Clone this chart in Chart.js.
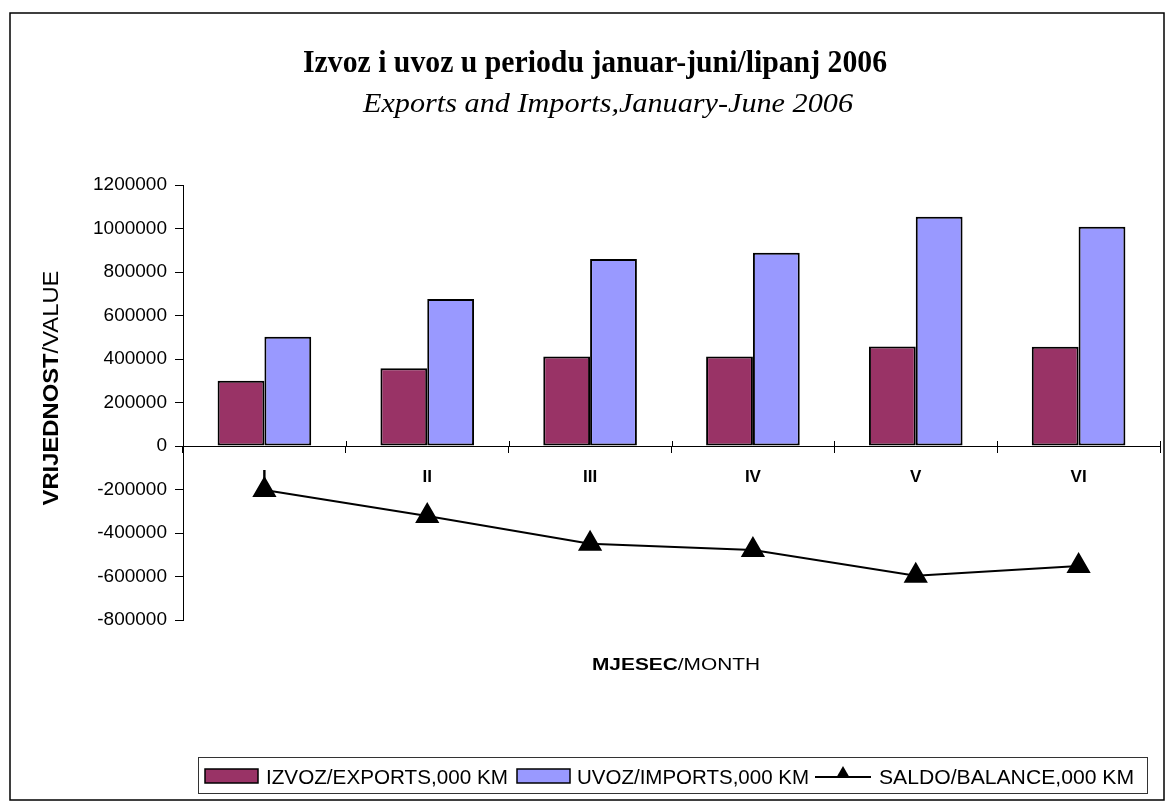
<!DOCTYPE html>
<html>
<head>
<meta charset="utf-8">
<script src="https://cdn.jsdelivr.net/npm/chart.js@4.4.0/dist/chart.umd.min.js"></script>
<style>
  html, body { margin: 0; padding: 0; background: #fff; }
  #wrap { width: 1174px; height: 808px; position: relative; }
</style>
</head>
<body>
<div id="wrap"><canvas id="chart" width="1174" height="808"></canvas></div>
<script>
// Izvoz i uvoz, januar-juni 2006 (000 KM)
const months = ['I', 'II', 'III', 'IV', 'V', 'VI'];
const exportsKM = [300000, 357000, 411000, 411000, 457000, 456000];
const importsKM = [502000, 676000, 860000, 889000, 1054000, 1008000];
const balanceKM = [-202000, -322000, -449000, -478000, -597000, -552000];
const yTicks = [-800000, -600000, -400000, -200000, 0, 200000, 400000, 600000, 800000, 1000000, 1200000];

const MAROON = '#993366';
const LAVENDER = '#9999FF';
const SANS = "'Liberation Sans', Arial, sans-serif";
const SERIF = "'Liberation Serif', 'Times New Roman', serif";

// draw text pieces squeezed/stretched to a given width
function fitText(ctx, parts, x, y, width, align) {
    let total = 0;
    parts.forEach(p => {
        ctx.font = p.font;
        p.w = ctx.measureText(p.text).width;
        total += p.w;
    });
    const sx = width / total;
    ctx.save();
    ctx.translate(x, y);
    ctx.scale(sx, 1);
    let cx = align === 'center' ? -total / 2 : 0;
    ctx.textAlign = 'left';
    ctx.textBaseline = 'alphabetic';
    parts.forEach(p => {
        ctx.font = p.font;
        ctx.fillText(p.text, cx, 0);
        cx += p.w;
    });
    ctx.restore();
}

function triangle(ctx, cx, cy, r) {
    ctx.beginPath();
    ctx.moveTo(cx, cy - r);
    ctx.lineTo(cx + r * 0.866, cy + r * 0.5);
    ctx.lineTo(cx - r * 0.866, cy + r * 0.5);
    ctx.closePath();
    ctx.fill();
}

// titles, axis titles, frame and legend box
const decorations = {
    id: 'decorations',
    afterDraw(chart) {
        const ctx = chart.ctx;
        const xs = chart.scales.x;
        const ys = chart.scales.y;
        ctx.save();
        ctx.fillStyle = '#000';
        ctx.strokeStyle = '#000';

        // category separator ticks poke above the zero line too
        const y0 = ys.getPixelForValue(0);
        ctx.lineWidth = 1;
        for (let i = 0; i <= months.length; i++) {
            const x = Math.round(xs.left + i * (xs.right - xs.left) / months.length) + 0.5;
            ctx.beginPath();
            ctx.moveTo(x, y0 - 5);
            ctx.lineTo(x, y0);
            ctx.stroke();
        }

        // outer frame
        ctx.lineWidth = 1.5;
        ctx.strokeRect(10, 13, 1154, 787);

        // titles
        fitText(ctx, [{ text: 'Izvoz i uvoz u periodu januar-juni/lipanj 2006', font: 'bold 31px ' + SERIF }], 595, 72, 584, 'center');
        fitText(ctx, [{ text: 'Exports and Imports,January-June 2006', font: 'italic 28px ' + SERIF }], 608, 112, 490, 'center');

        // y axis title
        ctx.save();
        ctx.translate(50, 388);
        ctx.rotate(-Math.PI / 2);
        fitText(ctx, [
            { text: 'VRIJEDNOST', font: 'bold 22px ' + SANS },
            { text: '/VALUE', font: '22px ' + SANS }
        ], 0, 8, 235, 'center');
        ctx.restore();

        // x axis title
        fitText(ctx, [
            { text: 'MJESEC', font: 'bold 17px ' + SANS },
            { text: '/MONTH', font: '17px ' + SANS }
        ], 676, 670, 168, 'center');

        // legend
        ctx.lineWidth = 1;
        ctx.strokeStyle = '#333';
        ctx.strokeRect(198.5, 757.5, 949, 36);
        ctx.strokeStyle = '#000';
        ctx.lineWidth = 1.5;
        ctx.fillStyle = MAROON;
        ctx.fillRect(205, 769, 53, 14);
        ctx.strokeRect(205, 769, 53, 14);
        ctx.fillStyle = LAVENDER;
        ctx.fillRect(517, 769, 53, 14);
        ctx.strokeRect(517, 769, 53, 14);
        ctx.fillStyle = '#000';
        ctx.lineWidth = 2;
        ctx.beginPath();
        ctx.moveTo(815, 777);
        ctx.lineTo(871, 777);
        ctx.stroke();
        triangle(ctx, 843, 774, 8);
        const lf = '20px ' + SANS;
        fitText(ctx, [{ text: 'IZVOZ/EXPORTS,000 KM', font: lf }], 266, 784, 242, 'left');
        fitText(ctx, [{ text: 'UVOZ/IMPORTS,000 KM', font: lf }], 577, 784, 232, 'left');
        fitText(ctx, [{ text: 'SALDO/BALANCE,000 KM', font: lf }], 879, 784, 255, 'left');

        ctx.restore();
    }
};

const ctx = document.getElementById('chart').getContext('2d');
new Chart(ctx, {
    type: 'bar',
    data: {
        labels: months,
        datasets: [
            {
                type: 'line',
                label: 'SALDO/BALANCE,000 KM',
                data: balanceKM,
                borderColor: '#000',
                backgroundColor: '#000',
                borderWidth: 2,
                tension: 0,
                pointStyle: 'triangle',
                pointRadius: 12,
                pointBackgroundColor: '#000',
                pointBorderColor: '#000',
                order: 0
            },
            {
                label: 'IZVOZ/EXPORTS,000 KM',
                data: exportsKM,
                backgroundColor: MAROON,
                borderColor: '#000',
                borderWidth: 2,
                borderSkipped: false,
                barPercentage: 1,
                categoryPercentage: 0.575,
                order: 1
            },
            {
                label: 'UVOZ/IMPORTS,000 KM',
                data: importsKM,
                backgroundColor: LAVENDER,
                borderColor: '#000',
                borderWidth: 2,
                borderSkipped: false,
                barPercentage: 1,
                categoryPercentage: 0.575,
                order: 1
            }
        ]
    },
    options: {
        responsive: false,
        devicePixelRatio: 1,
        animation: false,
        layout: {
            padding: { left: 0, top: 185, right: 6, bottom: 188 }
        },
        plugins: {
            legend: { display: false },
            title: { display: false },
            tooltip: { enabled: false }
        },
        scales: {
            x: {
                position: { y: 0 },
                offset: true,
                grid: {
                    display: true,
                    offset: true,
                    drawOnChartArea: false,
                    drawTicks: true,
                    tickLength: 6,
                    color: '#000'
                },
                border: { display: true, color: '#000', width: 1 },
                ticks: {
                    color: '#000',
                    padding: 15,
                    font: { family: SANS, size: 17, weight: 'bold' }
                }
            },
            y: {
                min: -800000,
                max: 1200000,
                afterFit: scale => { scale.width = 183; },
                afterBuildTicks: axis => { axis.ticks = yTicks.map(v => ({ value: v })); },
                grid: {
                    display: true,
                    drawOnChartArea: false,
                    drawTicks: true,
                    tickLength: 8,
                    color: '#000'
                },
                border: { display: true, color: '#000', width: 1 },
                ticks: {
                    color: '#000',
                    padding: 8,
                    font: { family: SANS, size: 19 },
                    callback: value => String(value)
                }
            }
        }
    },
    plugins: [decorations]
});
</script>
</body>
</html>
